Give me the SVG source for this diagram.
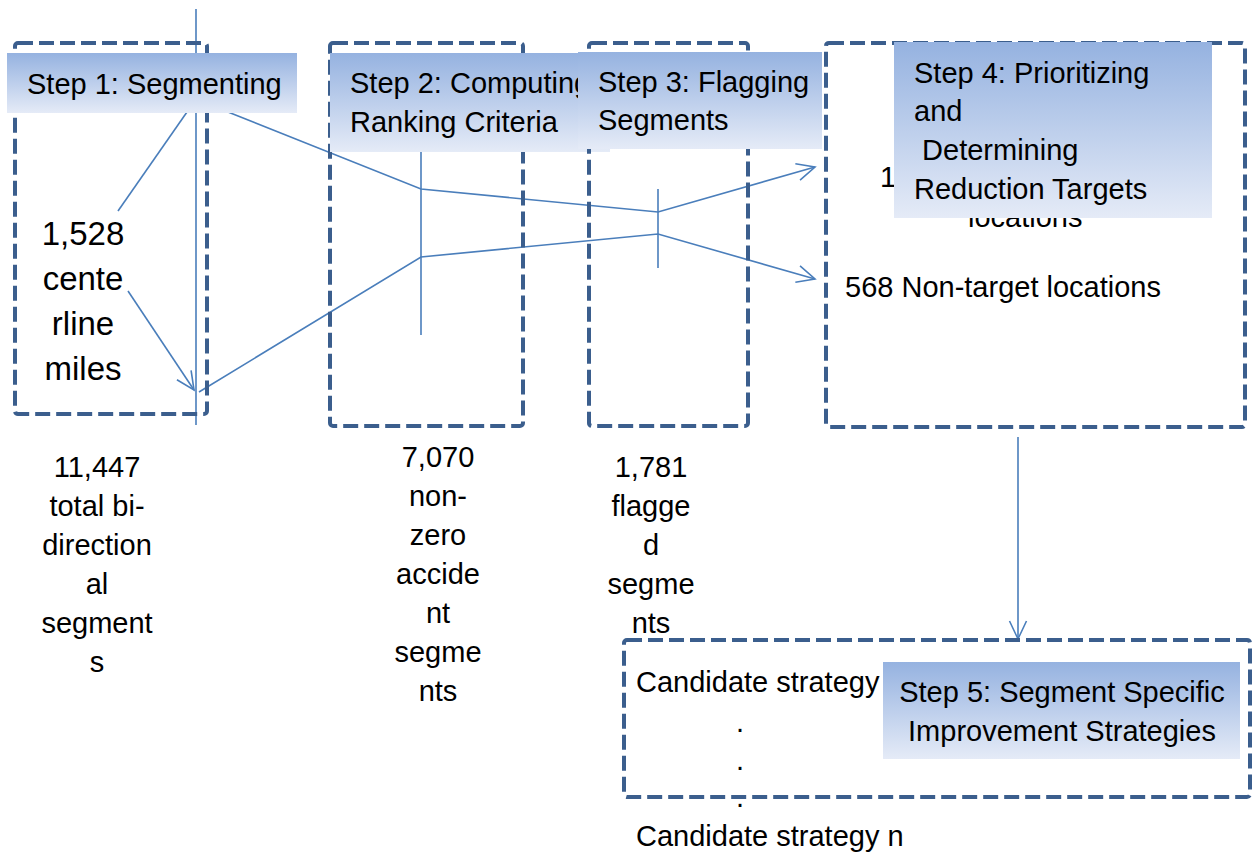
<svg xmlns="http://www.w3.org/2000/svg" width="1253" height="852" viewBox="0 0 1253 852">
<style>
.box{fill:none;stroke:#3B5E8D;stroke-width:4;stroke-dasharray:15 6}
.hdr{fill:url(#g)}
.t{font-family:"Liberation Sans",Arial,sans-serif;font-size:29px;fill:#000}
.big{font-size:33px}
.c{text-anchor:middle}
.ln{fill:none;stroke:#4A7EBB;stroke-width:1.6}
</style>
<defs>
<linearGradient id="g" x1="0" y1="0" x2="0" y2="1">
<stop offset="0" stop-color="#95B2E0"/>
<stop offset="1" stop-color="#E5EBF7"/>
</linearGradient>
<marker id="arr" viewBox="-20 -10 22 20" refX="0" refY="0" markerWidth="22" markerHeight="20" markerUnits="userSpaceOnUse" orient="auto">
<path d="M-18,-8.5 L0,0 L-18,8.5" fill="none" stroke="#4A7EBB" stroke-width="1.6"/>
</marker>
</defs>
<rect width="1253" height="852" fill="#fff"/>

<g id="connectors">
<line class="ln" x1="196" y1="9" x2="196" y2="425"/>
<line class="ln" x1="118" y1="211" x2="187" y2="112"/>
<line class="ln" x1="128" y1="291" x2="194" y2="390" marker-end="url(#arr)"/>
<polyline class="ln" points="228,112 421,189 658,212 815,167" marker-end="url(#arr)"/>
<polyline class="ln" points="199,392 421,257 658,234 815,279" marker-end="url(#arr)"/>
<line class="ln" x1="421" y1="140" x2="421" y2="335"/>
<line class="ln" x1="658" y1="189" x2="658" y2="268"/>
<line class="ln" x1="1018" y1="437" x2="1018" y2="639" marker-end="url(#arr)"/>
</g>

<g id="step1">
<rect class="box" x="15" y="43" width="192" height="371" rx="3"/>
<text class="t big c" x="83" y="245">1,528</text>
<text class="t big c" x="83" y="290">cente</text>
<text class="t big c" x="83" y="335">rline</text>
<text class="t big c" x="83" y="380">miles</text>
<rect class="hdr" x="7" y="53" width="290" height="60"/>
<text class="t" x="27" y="94">Step 1: Segmenting</text>
</g>

<g id="step1-count">
<text class="t c" x="97" y="477">11,447</text>
<text class="t c" x="97" y="516">total bi-</text>
<text class="t c" x="97" y="555">direction</text>
<text class="t c" x="97" y="594">al</text>
<text class="t c" x="97" y="633">segment</text>
<text class="t c" x="97" y="672">s</text>
</g>

<g id="step2">
<rect class="box" x="330" y="43" width="193" height="383" rx="3"/>
<rect class="hdr" x="330" y="53" width="280" height="99"/>
<text class="t" x="350" y="93">Step 2: Computing</text>
<text class="t" x="350" y="132">Ranking Criteria</text>
</g>

<g id="step2-count">
<text class="t c" x="438" y="467">7,070</text>
<text class="t c" x="438" y="506">non-</text>
<text class="t c" x="438" y="545">zero</text>
<text class="t c" x="438" y="584">accide</text>
<text class="t c" x="438" y="623">nt</text>
<text class="t c" x="438" y="662">segme</text>
<text class="t c" x="438" y="701">nts</text>
</g>

<g id="step3">
<rect class="box" x="589" y="43" width="159" height="383" rx="3"/>
<rect class="hdr" x="578" y="52" width="244" height="97"/>
<text class="t" x="598" y="92">Step 3: Flagging</text>
<text class="t" x="598" y="130">Segments</text>
</g>

<g id="step3-count">
<text class="t c" x="651" y="477">1,781</text>
<text class="t c" x="651" y="516">flagge</text>
<text class="t c" x="651" y="555">d</text>
<text class="t c" x="651" y="594">segme</text>
<text class="t c" x="651" y="633">nts</text>
</g>

<g id="step4">
<rect class="box" x="826" y="43" width="419" height="384" rx="3"/>
<text class="t" x="880" y="187">1</text>
<text class="t" x="968" y="227">locations</text>
<text class="t" x="845" y="297">568 Non-target locations</text>
<rect class="hdr" x="894" y="42" width="318" height="176"/>
<text class="t" x="914" y="83">Step 4: Prioritizing</text>
<text class="t" x="914" y="121">and</text>
<text class="t" x="914" y="160" xml:space="preserve"> Determining</text>
<text class="t" x="914" y="199">Reduction Targets</text>
</g>

<g id="step5">
<rect class="box" x="624" y="640" width="626" height="157" rx="3"/>
<text class="t" x="636" y="692">Candidate strategy</text>
<text class="t c" x="740" y="732">.</text>
<text class="t c" x="740" y="770">.</text>
<text class="t c" x="740" y="807">.</text>
<text class="t" x="636" y="846">Candidate strategy n</text>
<rect class="hdr" x="883" y="662" width="357" height="97"/>
<text class="t c" x="1062" y="702">Step 5: Segment Specific</text>
<text class="t c" x="1062" y="741">Improvement Strategies</text>
</g>
</svg>
